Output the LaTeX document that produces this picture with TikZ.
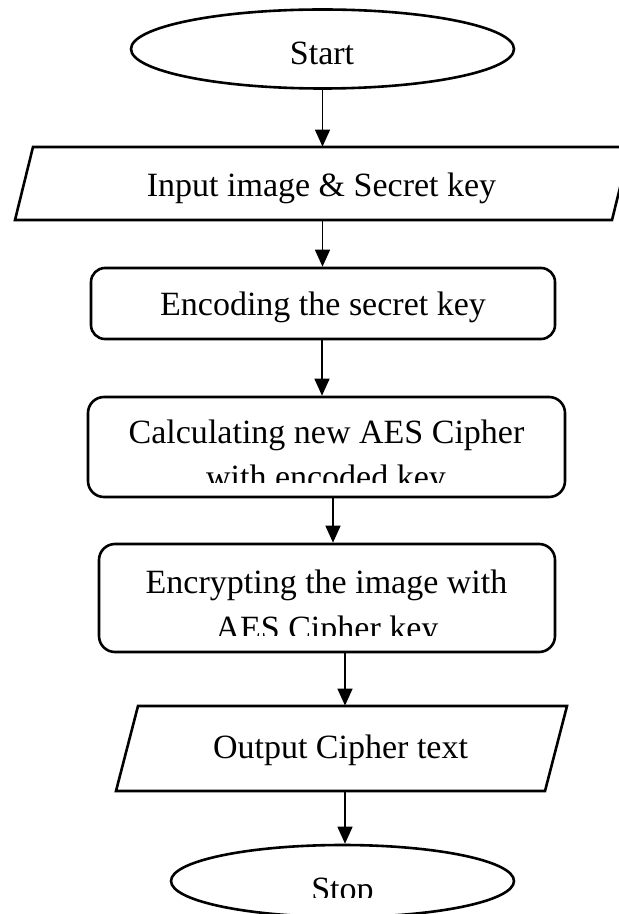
\documentclass[tikz,border=0pt]{standalone}
\usepackage{fontspec}
\setmainfont{Liberation Serif}
\usetikzlibrary{shapes.geometric, arrows.meta}
\begin{document}
\begin{tikzpicture}[x=0.5pt,y=-0.5pt,
  outl/.style={draw, line width=1.3pt},
  box/.style={outl, rounded corners=7pt, inner sep=0pt},
  oval/.style={outl, ellipse, inner sep=0pt},
  hold/.style={inner sep=0pt},
  txt/.style={inner sep=0pt, anchor=base, font=\fontsize{17}{20}\selectfont},
  arr/.style={draw, line width=0.7pt, -{Triangle[length=8.5pt,width=7.5pt]}}]
\useasboundingbox (0,0) rectangle (619,914);
\fill[white] (0,0) rectangle (619,914);

% Start
\node[oval, minimum width=191.5pt, minimum height=39.5pt] (start) at (322.5,49) {};
\node[txt] (tstart) at (322,65) {Start};

% Input
\draw[outl] (33,147) -- (630,147) -- (612,220) -- (15,220) -- cycle;
\node[hold, minimum width=290pt, minimum height=36.5pt] (inp) at (322.5,183.5) {};
\node[txt] (tinp) at (321.5,197) {Input image \& Secret key};

% Encoding
\node[box, minimum width=232pt, minimum height=35.5pt] (enc) at (323,303.5) {};
\node[txt] (tenc) at (323,315) {Encoding the secret key};

% Calculating
\node[box, rounded corners=8pt, minimum width=238.5pt, minimum height=50pt] (calc) at (326.5,447) {};
\node[txt] (tcalc) at (326.5,443) {Calculating new AES Cipher};
\begin{scope}
  \clip (0,0) rectangle (619,482);
  \node[txt] (tcalcb) at (326,488) {with encoded key};
\end{scope}

% Encrypting
\node[box, rounded corners=8pt, minimum width=228pt, minimum height=54pt] (encr) at (327,598) {};
\node[txt] (tencr) at (326.5,593) {Encrypting the image with};
\begin{scope}
  \clip (0,0) rectangle (619,635);
  \node[txt] (tencrb) at (327,639) {AES Cipher key};
\end{scope}

% Output
\draw[outl] (138,706) -- (567,706) -- (545,791) -- (116,791) -- cycle;
\node[hold, minimum width=214pt, minimum height=42.5pt] (out) at (341.5,748.5) {};
\node[txt] (tout) at (340.5,758) {Output Cipher text};

% Stop
\node[oval, minimum width=171.5pt, minimum height=36pt] (stop) at (342.5,881) {};
\begin{scope}
  \clip (0,0) rectangle (619,897);
  \node[txt] (tstop) at (342.5,900) {Stop};
\end{scope}

% Connectors
\draw[arr] (start.south) -- (start.south |- inp.north);
\draw[arr] (inp.south) -- (inp.south |- enc.north);
\draw[arr] ([xshift=-0.5pt]enc.south) -- ([xshift=-0.5pt]enc.south |- calc.north);
\draw[arr] ([xshift=3.25pt]calc.south) -- ([xshift=3.25pt]calc.south |- encr.north);
\draw[arr] ([xshift=9pt]encr.south) -- ([xshift=9pt]encr.south |- out.north);
\draw[arr] ([xshift=1.75pt]out.south) -- ([xshift=1.75pt]out.south |- stop.north);
\end{tikzpicture}
\end{document}
